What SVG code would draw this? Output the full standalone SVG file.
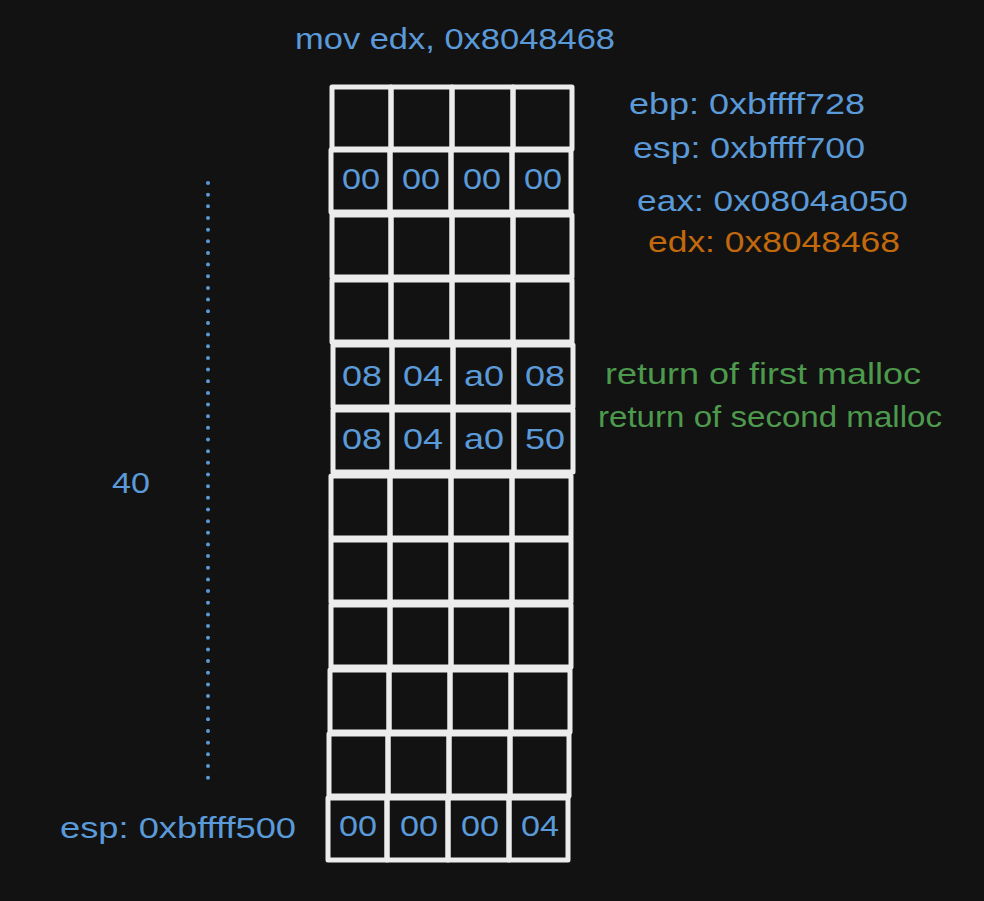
<svg xmlns="http://www.w3.org/2000/svg" width="984" height="901" viewBox="0 0 984 901">
<style>
.c{fill:none;stroke:#ececec;stroke-width:5;stroke-linejoin:round}
.t{font-family:"Liberation Sans",Arial,sans-serif;font-size:29px}
.b{fill:#5b9ad9}
.o{fill:#c2690d}
.g{fill:#4d9a4d}
.v{font-family:"Liberation Sans",Arial,sans-serif;font-size:30px;fill:#5b9ad9;text-anchor:middle}
</style>
<rect width="984" height="901" fill="#121212"/>
<defs>
<g id="rowcells">
<rect class="c" x="0" y="0" width="59" height="62"/>
<rect class="c" x="59" y="0" width="61" height="62"/>
<rect class="c" x="120" y="0" width="61" height="62"/>
<rect class="c" x="181" y="0" width="59" height="62"/>
</g>
</defs>
<g id="connectors">
<line x1="208" y1="183" x2="208" y2="778" stroke="#5b9ad9" stroke-width="4" stroke-linecap="round" stroke-dasharray="0 11.66"/>
</g>
<g id="row1"><use href="#rowcells" x="332" y="87"/></g>
<g id="row2"><use href="#rowcells" x="331" y="150"/>
<text class="v" x="361" y="189" textLength="38" lengthAdjust="spacingAndGlyphs">00</text>
<text class="v" x="421" y="189" textLength="38" lengthAdjust="spacingAndGlyphs">00</text>
<text class="v" x="482" y="189" textLength="38" lengthAdjust="spacingAndGlyphs">00</text>
<text class="v" x="543" y="189" textLength="38" lengthAdjust="spacingAndGlyphs">00</text>
</g>
<g id="row3"><use href="#rowcells" x="332" y="215"/></g>
<g id="row4"><use href="#rowcells" x="332" y="280"/></g>
<g id="row5"><use href="#rowcells" x="333" y="345"/>
<text class="v" x="362" y="386" textLength="40" lengthAdjust="spacingAndGlyphs">08</text>
<text class="v" x="423" y="386" textLength="40" lengthAdjust="spacingAndGlyphs">04</text>
<text class="v" x="484" y="386" textLength="40" lengthAdjust="spacingAndGlyphs">a0</text>
<text class="v" x="545" y="386" textLength="40" lengthAdjust="spacingAndGlyphs">08</text>
</g>
<g id="row6"><use href="#rowcells" x="333" y="410"/>
<text class="v" x="362" y="449" textLength="40" lengthAdjust="spacingAndGlyphs">08</text>
<text class="v" x="423" y="449" textLength="40" lengthAdjust="spacingAndGlyphs">04</text>
<text class="v" x="484" y="449" textLength="40" lengthAdjust="spacingAndGlyphs">a0</text>
<text class="v" x="545" y="449" textLength="40" lengthAdjust="spacingAndGlyphs">50</text>
</g>
<g id="row7"><use href="#rowcells" x="331" y="476"/></g>
<g id="row8"><use href="#rowcells" x="331" y="540"/></g>
<g id="row9"><use href="#rowcells" x="331" y="605"/></g>
<g id="row10"><use href="#rowcells" x="330" y="670"/></g>
<g id="row11"><use href="#rowcells" x="329" y="734"/></g>
<g id="row12"><use href="#rowcells" x="328" y="798"/>
<text class="v" x="358" y="836" textLength="38" lengthAdjust="spacingAndGlyphs">00</text>
<text class="v" x="419" y="836" textLength="38" lengthAdjust="spacingAndGlyphs">00</text>
<text class="v" x="480" y="836" textLength="38" lengthAdjust="spacingAndGlyphs">00</text>
<text class="v" x="540" y="836" textLength="38" lengthAdjust="spacingAndGlyphs">04</text>
</g>
<g id="label-mov"><text class="t b" x="295" y="49" textLength="320" lengthAdjust="spacingAndGlyphs">mov edx, 0x8048468</text></g>
<g id="label-ebp"><text class="t b" x="629" y="114" textLength="236" lengthAdjust="spacingAndGlyphs">ebp: 0xbffff728</text></g>
<g id="label-esp-top"><text class="t b" x="633" y="158" textLength="232" lengthAdjust="spacingAndGlyphs">esp: 0xbffff700</text></g>
<g id="label-eax"><text class="t b" x="637" y="211" textLength="271" lengthAdjust="spacingAndGlyphs">eax: 0x0804a050</text></g>
<g id="label-edx"><text class="t o" x="648" y="252" textLength="252" lengthAdjust="spacingAndGlyphs">edx: 0x8048468</text></g>
<g id="label-first"><text class="t g" x="605" y="384" textLength="316" lengthAdjust="spacingAndGlyphs">return of first malloc</text></g>
<g id="label-second"><text class="t g" x="598" y="427" textLength="344" lengthAdjust="spacingAndGlyphs">return of second malloc</text></g>
<g id="label-40"><text class="t b" x="112" y="493" textLength="38" lengthAdjust="spacingAndGlyphs">40</text></g>
<g id="label-esp-bottom"><text class="t b" x="60" y="838" textLength="236" lengthAdjust="spacingAndGlyphs">esp: 0xbffff500</text></g>
</svg>
